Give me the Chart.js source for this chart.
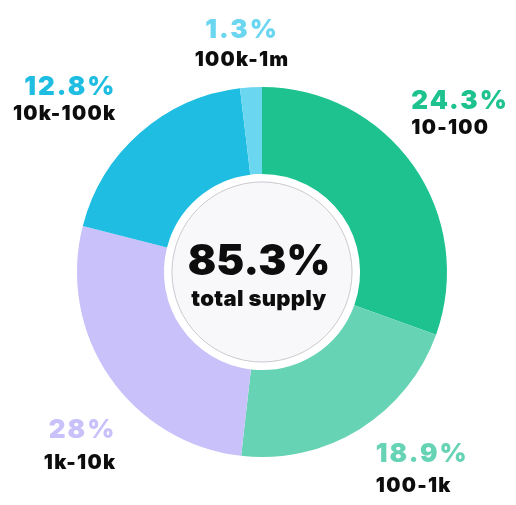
<!DOCTYPE html>
<html>
<head>
<meta charset="utf-8">
<script src="https://cdn.jsdelivr.net/npm/chart.js@4"></script>
<style>
html,body{margin:0;padding:0;background:#fff;}
#wrap{width:516px;height:505px;}
</style>
</head>
<body>
<div id="wrap"><canvas id="c" width="516" height="505"></canvas></div>
<script>
// Data
const categories = ["10-100", "100-1k", "1k-10k", "10k-100k", "100k-1m"];
const percentLabels = ["24.3%", "18.9%", "28%", "12.8%", "1.3%"];
// slice sizes as drawn in the reference ring (share of the full circle)
const sliceValues = [30.5, 21.3, 27.2, 19.1, 1.9];
const totalLabel = "85.3%";
const totalCaption = "total supply";

const colors = ["#1ec28f", "#67d3b5", "#c8c1fa", "#1fbde1", "#6bd6f0"];
// label layout: align, dx, dy relative to an anchor on each slice's mid angle; gap between lines
const labelLayout = [
  {align: "left",   dx: -55, dy: -27, gap: 27},
  {align: "left",   dx: -18, dy: -30, gap: 32},
  {align: "right",  dx: 60,  dy: 17,  gap: 32},
  {align: "right",  dx: 19,  dy: 3,   gap: 27},
  {align: "center", dx: -5,  dy: 7,   gap: 30}
];

const FONT = "Inter, 'Open Sans', sans-serif";

function spacedText(ctx, text, x, y, spacing) {
  if ("letterSpacing" in ctx) {
    ctx.letterSpacing = spacing + "px";
    ctx.fillText(text, x, y);
    ctx.letterSpacing = "0px";
  } else {
    ctx.fillText(text, x, y);
  }
}

const centerPlugin = {
  id: "centerDisc",
  afterDatasetsDraw(chart) {
    const meta = chart.getDatasetMeta(0);
    const arc = meta.data[0];
    if (!arc) return;
    const ctx = chart.ctx;
    const cx = arc.x, cy = arc.y;
    const r = arc.innerRadius - 8;
    ctx.save();
    ctx.beginPath();
    ctx.arc(cx, cy, r, 0, Math.PI * 2);
    ctx.fillStyle = "#f8f8fa";
    ctx.fill();
    ctx.lineWidth = 1;
    ctx.strokeStyle = "#c9c9cf";
    ctx.stroke();
    ctx.fillStyle = "#0d0d0d";
    ctx.textAlign = "center";
    ctx.textBaseline = "middle";
    ctx.font = "900 42px " + FONT;
    spacedText(ctx, totalLabel, cx - 3, cy - 10, 0);
    ctx.font = "900 22px " + FONT;
    spacedText(ctx, totalCaption, cx - 3, cy + 27, 0.3);

    // outside labels
    const rr = arc.outerRadius * 1.35;
    meta.data.forEach((a, i) => {
      const mid = (a.startAngle + a.endAngle) / 2;
      const ax = cx + Math.cos(mid) * rr;
      const ay = cy + Math.sin(mid) * rr;
      const L = labelLayout[i];
      const x = ax + L.dx, y = ay + L.dy;
      ctx.textAlign = L.align;
      ctx.textBaseline = "middle";
      ctx.font = "900 26px " + FONT;
      ctx.fillStyle = colors[i];
      spacedText(ctx, percentLabels[i], x, y, 2);
      ctx.font = "900 20px " + FONT;
      ctx.fillStyle = "#0d0d0d";
      spacedText(ctx, categories[i], x, y + L.gap, 1.3);
    });
    ctx.restore();
  }
};

new Chart(document.getElementById("c"), {
  type: "doughnut",
  data: {
    labels: categories,
    datasets: [{
      data: sliceValues,
      backgroundColor: colors,
      borderWidth: 0,
      hoverOffset: 0
    }]
  },
  options: {
    responsive: false,
    animation: false,
    cutout: "53%",
    layout: {padding: {left: 77, right: 69, top: 87, bottom: 48}},
    plugins: {
      legend: {display: false},
      tooltip: {enabled: false}
    }
  },
  plugins: [centerPlugin]
});
</script>
</body>
</html>
